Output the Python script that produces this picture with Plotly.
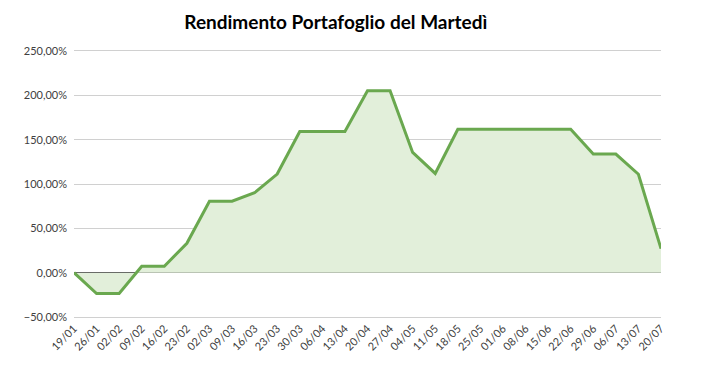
import plotly.graph_objects as go

dates = ["19/01", "26/01", "02/02", "09/02", "16/02", "23/02", "02/03", "09/03", "16/03",
         "23/03", "30/03", "06/04", "13/04", "20/04", "27/04", "04/05", "11/05", "18/05",
         "25/05", "01/06", "08/06", "15/06", "22/06", "29/06", "06/07", "13/07", "20/07"]
rendimento = [0.0, -0.235, -0.235, 0.072, 0.072, 0.332, 0.806, 0.806, 0.901,
              1.112, 1.592, 1.592, 1.592, 2.052, 2.052, 1.356, 1.119, 1.618,
              1.618, 1.618, 1.618, 1.618, 1.618, 1.337, 1.337, 1.110, 0.271]
y_ticks = [-0.5, 0.0, 0.5, 1.0, 1.5, 2.0, 2.5]

x_idx = list(range(len(dates)))

fig = go.Figure()
fig.add_trace(go.Scatter(
    x=x_idx, y=rendimento, mode="lines", fill="tozeroy",
    line=dict(color="#6AA84F", width=3),
    fillcolor="#E2EFDA",
    hoverinfo="skip",
))

# page body has an 8px margin, so the figure is sized 8px smaller
fig.update_layout(
    width=699, height=369,
    margin=dict(l=66, r=46, t=43, b=60, autoexpand=False),
    paper_bgcolor="white", plot_bgcolor="white",
    separators=",.",
    showlegend=False,
    font=dict(family="Lato, Carlito, Calibri, sans-serif", color="#404040", size=11),
    title=dict(text="<b>Rendimento Portafoglio del Martedì</b>", x=0.469, xanchor="center",
               y=0.962, yanchor="middle",
               font=dict(family="Lato, Carlito, Calibri, sans-serif", size=19, color="#000000")),
)
fig.update_xaxes(
    range=[0, len(dates) - 1], tickmode="array", tickvals=x_idx, ticktext=dates,
    tickangle=-45, showgrid=False, zeroline=False,
    showline=True, mirror=True, linecolor="#D0D0D0", linewidth=1,
    ticks="", automargin=False,
    tickfont=dict(size=11, color="#404040"),
)
fig.update_yaxes(
    range=[-0.5, 2.5], tickmode="array", tickvals=y_ticks, tickformat=".2%",
    showgrid=True, gridcolor="#D0D0D0", gridwidth=1,
    zeroline=True, zerolinecolor="#404040", zerolinewidth=1,
    showline=False, ticks="", ticklabelstandoff=6, automargin=False,
    tickfont=dict(size=11, color="#404040"),
)

fig.write_html("out.html")
